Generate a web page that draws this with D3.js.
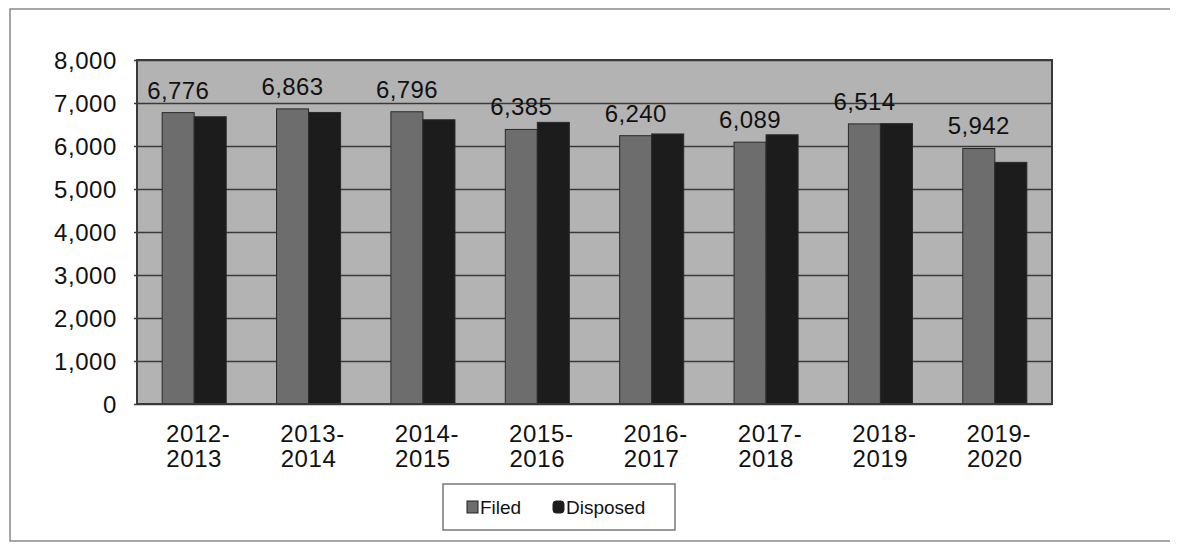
<!DOCTYPE html>
<html>
<head>
<meta charset="utf-8">
<script src="https://cdn.jsdelivr.net/npm/d3@7"></script>
<style>
  body { margin: 0; background: #fff; }
  text { font-family: "Liberation Sans", Arial, sans-serif; fill: #111; }
</style>
</head>
<body>
<div id="chart"></div>
<script>
const years = ["2012-2013", "2013-2014", "2014-2015", "2015-2016", "2016-2017", "2017-2018", "2018-2019", "2019-2020"];
const filed = [6776, 6863, 6796, 6385, 6240, 6089, 6514, 5942];
const disposed = [6680, 6780, 6610, 6550, 6280, 6260, 6520, 5620];
const seriesNames = ["Filed", "Disposed"];
const yTicks = [0, 1000, 2000, 3000, 4000, 5000, 6000, 7000, 8000];

const w = 1179;
const h = 544;
const plotLeft = 137, plotRight = 1052, plotTop = 60, plotBottom = 404;

const svg = d3.select("#chart")
    .append("svg")
    .attr("width", w)
    .attr("height", h);

// outer frame
svg.append("path")
    .attr("d", "M1170,9 H10 V541 H1170")
    .attr("fill", "none")
    .attr("stroke", "#8a8a8a")
    .attr("stroke-width", 1.5);

const x = d3.scaleBand()
    .domain(years)
    .range([plotLeft, plotRight])
    .paddingInner(0.44)
    .paddingOuter(0.22);

const xSub = d3.scaleBand()
    .domain(seriesNames)
    .range([0, x.bandwidth()]);

const y = d3.scaleLinear()
    .domain([0, 8000])
    .range([plotBottom, plotTop]);

// plot background
svg.append("rect")
    .attr("x", plotLeft)
    .attr("y", plotTop)
    .attr("width", plotRight - plotLeft)
    .attr("height", plotBottom - plotTop)
    .attr("fill", "#b3b3b3");

// gridlines
const yAxis = d3.axisLeft(y)
    .tickValues(yTicks)
    .tickSize(-(plotRight - plotLeft))
    .tickFormat(d3.format(","));

const gy = svg.append("g")
    .attr("transform", `translate(${plotLeft},0)`)
    .call(yAxis);
gy.select(".domain").remove();
gy.selectAll(".tick line")
    .attr("x1", -3)
    .attr("stroke", "#3a3a3a")
    .attr("stroke-width", 1.5);
gy.selectAll(".tick text")
    .attr("x", -20)
    .attr("dy", "0.35em")
    .style("font-size", "24px")
    .style("letter-spacing", "0.6px")
    .attr("fill", "#111");

const colors = { Filed: "#6d6d6d", Disposed: "#1c1c1c" };
const values = { Filed: filed, Disposed: disposed };

seriesNames.forEach(name => {
    svg.append("g").selectAll("rect")
        .data(values[name])
        .enter()
        .append("rect")
        .attr("x", (d, i) => x(years[i]) + xSub(name))
        .attr("y", d => y(d))
        .attr("width", xSub.bandwidth())
        .attr("height", d => y(0) - y(d))
        .attr("fill", colors[name])
        .attr("stroke", "#2a2a2a")
        .attr("stroke-width", 1);
});

// value labels over the filed bars
svg.append("g").selectAll("text")
    .data(filed)
    .enter()
    .append("text")
    .attr("x", (d, i) => x(years[i]) + xSub("Filed") + xSub.bandwidth() / 2)
    .attr("y", d => y(d) - 14)
    .attr("text-anchor", "middle")
    .style("font-size", "24px")
    .style("letter-spacing", "0.4px")
    .text(d => d3.format(",")(d));

// plot border
svg.append("rect")
    .attr("x", plotLeft)
    .attr("y", plotTop)
    .attr("width", plotRight - plotLeft)
    .attr("height", plotBottom - plotTop)
    .attr("fill", "none")
    .attr("stroke", "#3a3a3a")
    .attr("stroke-width", 2);

// x labels on two lines
const xl = svg.append("g").selectAll("text")
    .data(years)
    .enter()
    .append("text")
    .attr("text-anchor", "middle")
    .style("font-size", "24px")
    .style("letter-spacing", "0.6px");
xl.append("tspan")
    .attr("x", d => x(d) + x.bandwidth() / 2 + 4)
    .attr("y", 442)
    .text(d => d.split("-")[0] + "-");
xl.append("tspan")
    .attr("x", d => x(d) + x.bandwidth() / 2)
    .attr("y", 467)
    .text(d => d.split("-")[1]);

// legend
const legend = svg.append("g");
legend.append("rect")
    .attr("x", 443)
    .attr("y", 484)
    .attr("width", 232)
    .attr("height", 46)
    .attr("fill", "#fff")
    .attr("stroke", "#777")
    .attr("stroke-width", 1.5);

const legendX = { Filed: 467, Disposed: 553 };
seriesNames.forEach(name => {
    legend.append("rect")
        .attr("x", legendX[name])
        .attr("y", 501)
        .attr("width", 11)
        .attr("height", 12)
        .attr("rx", name === "Disposed" ? 3 : 0)
        .attr("fill", colors[name])
        .attr("stroke", "#222");
    legend.append("text")
        .attr("x", legendX[name] + 13)
        .attr("y", 514)
        .style("font-size", "19px")
        .text(name);
});
</script>
</body>
</html>
